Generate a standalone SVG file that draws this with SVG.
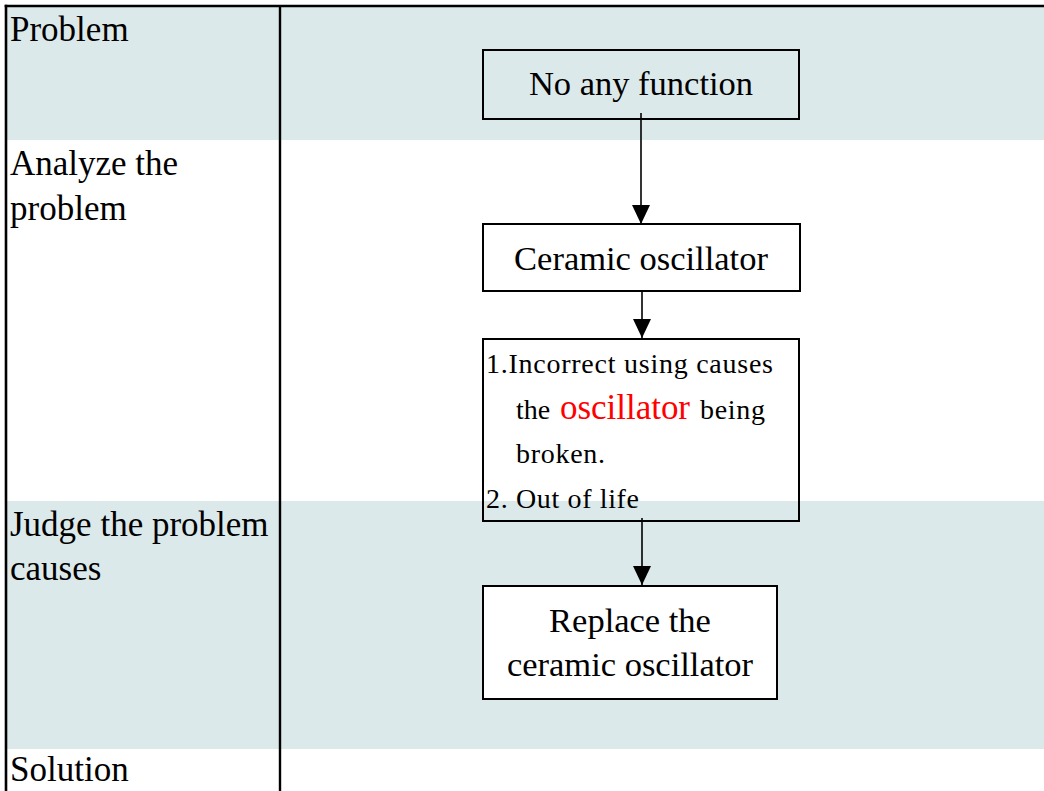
<svg xmlns="http://www.w3.org/2000/svg" width="1044" height="791" viewBox="0 0 1044 791">
  <defs>
    <style>
      text { font-family: 'Liberation Serif', 'DejaVu Serif', serif; }
      .lbl { font-size: 35px; fill: #000; }
      .big { font-size: 34.5px; fill: #000; text-anchor: middle; }
      .sm { font-size: 28px; fill: #000; }
      .red { font-size: 35px; fill: #ff0000; }
      .box { stroke: #000; stroke-width: 2; }
      .conn { stroke: #000; stroke-width: 1.6; fill: none; }
      .band { fill: #dce9ea; }
    </style>
    <marker id="arrow" viewBox="0 0 19 18" refX="19" refY="9" markerWidth="19" markerHeight="18" markerUnits="userSpaceOnUse" orient="auto">
      <path d="M0,0 L19,9 L0,18 Z" fill="#000"/>
    </marker>
  </defs>

  <rect x="0" y="0" width="1044" height="791" fill="#ffffff"/>

  <g id="background">
    <rect class="band" x="7" y="7" width="1037" height="133"/>
    <rect class="band" x="7" y="501" width="1037" height="248"/>
    <line x1="4.7" y1="6" x2="1044" y2="6" stroke="#000" stroke-width="2.6"/>
    <line x1="6" y1="4.7" x2="6" y2="791" stroke="#000" stroke-width="2.6"/>
    <line x1="280" y1="6" x2="280" y2="791" stroke="#000" stroke-width="2.4"/>
  </g>

  <g id="lane-labels">
    <text class="lbl" x="10" y="41">Problem</text>
    <text class="lbl" x="10" y="175">Analyze the</text>
    <text class="lbl" x="10" y="220">problem</text>
    <text class="lbl" x="10" y="536">Judge the problem</text>
    <text class="lbl" x="10" y="580">causes</text>
    <text class="lbl" x="10" y="781">Solution</text>
  </g>

  <g id="node-no-function">
    <rect class="box" x="483" y="50" width="316" height="69" fill="none"/>
    <text class="big" x="641" y="95">No any function</text>
  </g>

  <g id="node-ceramic">
    <rect class="box" x="483" y="224" width="317" height="67" fill="#ffffff"/>
    <text class="big" x="641" y="270">Ceramic oscillator</text>
  </g>

  <g id="node-causes">
    <rect class="box" x="483" y="339" width="316" height="182" fill="none"/>
    <text class="sm" x="486" y="373" textLength="287" lengthAdjust="spacing">1.Incorrect using causes</text>
    <text class="sm" x="516" y="419">the</text>
    <text class="red" x="560" y="419" textLength="130" lengthAdjust="spacing">oscillator</text>
    <text class="sm" x="700" y="419" textLength="65" lengthAdjust="spacing">being</text>
    <text class="sm" x="516" y="463" textLength="89" lengthAdjust="spacing">broken.</text>
    <text class="sm" x="486" y="508" textLength="153" lengthAdjust="spacing">2. Out of life</text>
  </g>

  <g id="node-replace">
    <rect class="box" x="483" y="586" width="294" height="113" fill="#ffffff"/>
    <text class="big" x="630" y="632">Replace the</text>
    <text class="big" x="630" y="676">ceramic oscillator</text>
  </g>

  <g id="connectors">
    <line class="conn" x1="641" y1="113" x2="641" y2="224" marker-end="url(#arrow)"/>
    <line class="conn" x1="642" y1="291" x2="642" y2="338" marker-end="url(#arrow)"/>
    <line class="conn" x1="642" y1="518" x2="642" y2="585" marker-end="url(#arrow)"/>
  </g>
</svg>
